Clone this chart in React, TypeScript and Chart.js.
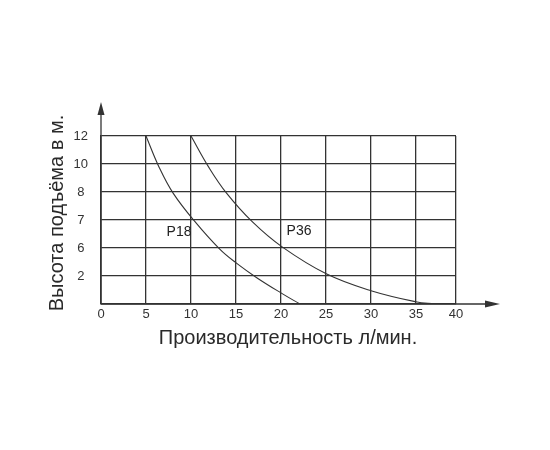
import React, { useEffect, useRef } from "react";
import { Chart, registerables } from "chart.js";

Chart.register(...registerables);

// Flow (l/min) vs. head index (evenly spaced rows labelled below)
const xTickLabels = ["0", "5", "10", "15", "20", "25", "30", "35", "40"];
const yTickLabels = ["", "2", "6", "7", "8", "10", "12"];

const p18Flow = [5, 6.48, 8.03, 10.44, 13.22, 15.08, 17.3, 20.08, 22.1];
const p18Head = [6, 4.87, 3.95, 2.94, 1.95, 1.45, 0.94, 0.38, 0];

const p36Flow = [10, 12, 13.97, 16.8, 20.08, 25.08, 30, 34.97, 37.1];
const p36Head = [6, 4.87, 3.95, 2.94, 2.05, 1.07, 0.475, 0.08, 0];

const seriesNames = ["P18", "P36"];
const labelAnchorFlow = [8.67, 22];
const labelAnchorHead = [2.57, 2.6];

const xTitle = "Производительность л/мин.";
const yTitle = "Высота подъёма в м.";

const FONT = '"Liberation Sans", Arial, Helvetica, sans-serif';
const INK = "#333333";
const X_MAX = 39.44; // last column is narrower in the original drawing

const decor = {
  id: "decor",
  afterDraw(chart: any) {
    const { ctx, chartArea } = chart;
    const xs = chart.scales.x;
    const ys = chart.scales.y;
    const x0 = xs.getPixelForValue(0);
    const y0 = ys.getPixelForValue(0);
    ctx.save();
    ctx.strokeStyle = INK;
    ctx.fillStyle = INK;
    ctx.lineWidth = 1.3;
    // y axis extension + arrow
    ctx.beginPath();
    ctx.moveTo(x0, y0);
    ctx.lineTo(x0, chartArea.top - 24);
    ctx.stroke();
    ctx.beginPath();
    ctx.moveTo(x0, chartArea.top - 34);
    ctx.lineTo(x0 - 3.5, chartArea.top - 21);
    ctx.lineTo(x0 + 3.5, chartArea.top - 21);
    ctx.closePath();
    ctx.fill();
    // x axis extension + arrow
    ctx.beginPath();
    ctx.moveTo(x0, y0);
    ctx.lineTo(chartArea.right + 32, y0);
    ctx.stroke();
    ctx.beginPath();
    ctx.moveTo(chartArea.right + 44, y0);
    ctx.lineTo(chartArea.right + 29, y0 - 3.5);
    ctx.lineTo(chartArea.right + 29, y0 + 3.5);
    ctx.closePath();
    ctx.fill();

    // series labels
    ctx.fillStyle = "#222";
    ctx.font = `14px ${FONT}`;
    ctx.textAlign = "center";
    ctx.textBaseline = "middle";
    seriesNames.forEach((n, i) => {
      ctx.fillText(
        n,
        xs.getPixelForValue(labelAnchorFlow[i]),
        ys.getPixelForValue(labelAnchorHead[i])
      );
    });

    // axis titles
    ctx.fillStyle = "#2a2a2a";
    ctx.font = `20px ${FONT}`;
    ctx.fillText(xTitle, (chartArea.left + chartArea.right) / 2 + 9.5, chartArea.bottom + 34);
    ctx.save();
    ctx.translate(chartArea.left - 44, (chartArea.top + chartArea.bottom) / 2 - 7);
    ctx.rotate(-Math.PI / 2);
    ctx.fillText(yTitle, 0, 0);
    ctx.restore();
    ctx.restore();
  },
};

export default function App() {
  const ref = useRef<HTMLCanvasElement | null>(null);

  useEffect(() => {
    if (!ref.current) return;
    const mk = (xs: number[], ys: number[]) => xs.map((x, i) => ({ x, y: ys[i] }));
    const chart = new Chart(ref.current, {
      type: "scatter",
      data: {
        datasets: [
          {
            label: seriesNames[0],
            data: mk(p18Flow, p18Head),
            showLine: true,
            borderColor: INK,
            borderWidth: 1.1,
            pointRadius: 0,
            tension: 0.4,
          },
          {
            label: seriesNames[1],
            data: mk(p36Flow, p36Head),
            showLine: true,
            borderColor: INK,
            borderWidth: 1.1,
            pointRadius: 0,
            tension: 0.4,
          },
        ],
      },
      options: {
        animation: false,
        responsive: false,
        maintainAspectRatio: false,
        layout: { padding: { left: 0, top: 136, right: 94, bottom: 0 } },
        plugins: { legend: { display: false }, tooltip: { enabled: false } },
        scales: {
          x: {
            type: "linear",
            min: 0,
            max: X_MAX,
            afterBuildTicks: (scale: any) => {
              scale.ticks = xTickLabels.map((_, i) => ({
                value: i === xTickLabels.length - 1 ? X_MAX : i * 5,
              }));
            },
            afterFit: (scale: any) => {
              scale.height = 146;
            },
            ticks: {
              autoSkip: false,
              maxRotation: 0,
              padding: 3,
              color: INK,
              font: { family: FONT, size: 13 },
              callback: (_v: any, i: number) => xTickLabels[i],
            },
            grid: { color: INK, lineWidth: 1.3, drawTicks: false },
            border: { display: true, color: INK, width: 1.3 },
          },
          y: {
            type: "linear",
            min: 0,
            max: 6,
            afterFit: (scale: any) => {
              scale.width = 101;
            },
            ticks: {
              stepSize: 1,
              padding: 13,
              crossAlign: "center",
              color: INK,
              font: { family: FONT, size: 13 },
              callback: (v: any) => yTickLabels[Math.round(Number(v))] ?? "",
            },
            grid: { color: INK, lineWidth: 1.3, drawTicks: false },
            border: { display: true, color: INK, width: 1.3 },
          },
        },
      },
      plugins: [decor],
    });
    return () => chart.destroy();
  }, []);

  return (
    <div style={{ position: "fixed", left: 0, top: 0, width: 550, height: 450, background: "#fff" }}>
      <canvas ref={ref} width={550} height={450} style={{ width: 550, height: 450 }} />
    </div>
  );
}
